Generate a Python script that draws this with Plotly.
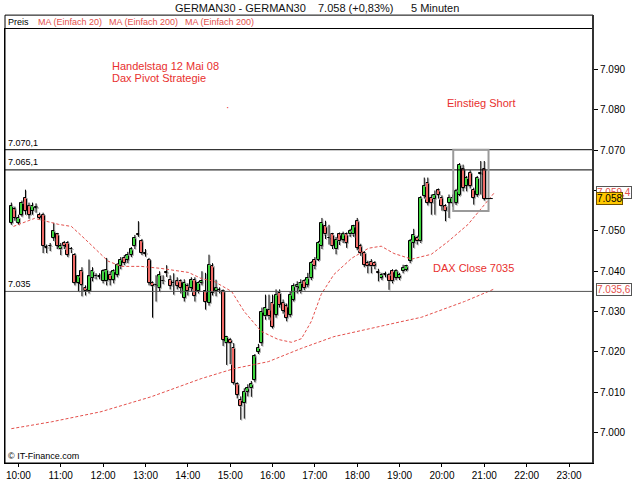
import pandas as pd
import plotly.graph_objects as go

# 5-minute bars GERMAN30, 12 May 2008
bar_start = "2008-05-12 09:50"
opens = [
    7052.0, 7055.3, 7052.0, 7054.0, 7058.2, 7056.1, 7054.9, 7055.7, 7054.0, 7054.0,
    7046.0, 7046.2, 7048.3, 7049.1, 7045.4, 7047.0, 7047.0, 7045.4, 7044.1, 7037.1,
    7040.0, 7035.8, 7035.0, 7038.3, 7038.7, 7038.7, 7037.5, 7037.5, 7039.1, 7037.9,
    7039.1, 7041.2, 7043.3, 7042.9, 7044.1, 7046.2, 7049.1, 7047.4, 7044.5, 7042.9,
    7037.1, 7036.7, 7035.8, 7037.5, 7039.9, 7037.9, 7037.0, 7037.5, 7037.5, 7033.4,
    7036.3, 7035.8, 7037.9, 7035.0, 7037.1, 7035.0, 7032.1, 7041.2, 7035.0, 7035.4,
    7035.0, 7022.2, 7023.0, 7021.0, 7012.0, 7008.1, 7007.3, 7010.2, 7011.0, 7013.1,
    7020.1, 7022.2, 7028.8, 7030.5, 7032.1, 7029.2, 7034.6, 7032.1, 7031.3, 7029.2,
    7032.9, 7036.0, 7035.0, 7037.5, 7036.7, 7038.3, 7042.9, 7042.9, 7046.2, 7051.1,
    7048.3, 7049.1, 7045.4, 7049.1, 7047.8, 7049.1, 7049.1, 7049.1, 7052.4, 7046.2,
    7044.5, 7042.0, 7042.4, 7042.0, 7039.9, 7038.3, 7039.1, 7039.1, 7040.0, 7038.3,
    7038.3, 7040.0, 7040.4, 7042.5, 7047.0, 7048.2, 7047.4, 7058.6, 7061.9, 7058.2,
    7057.8, 7060.0, 7058.2, 7056.1, 7056.9, 7057.0, 7056.9, 7059.0, 7065.2, 7061.1,
    7064.4, 7060.2, 7059.0, 7064.2, 7065.2,
]
highs = [
    7057.0, 7056.0, 7054.0, 7057.5, 7060.2, 7057.0, 7057.0, 7056.8, 7054.5, 7054.5,
    7046.6, 7047.0, 7052.0, 7049.5, 7047.0, 7047.5, 7047.5, 7046.0, 7044.5, 7039.0,
    7041.0, 7036.5, 7042.9, 7041.0, 7039.5, 7039.5, 7040.5, 7043.3, 7040.0, 7040.5,
    7042.0, 7043.5, 7044.0, 7044.8, 7046.0, 7049.0, 7052.4, 7048.0, 7045.5, 7043.3,
    7037.5, 7039.0, 7040.0, 7039.0, 7041.5, 7039.0, 7039.5, 7038.5, 7038.0, 7038.0,
    7037.0, 7038.5, 7038.5, 7037.5, 7040.0, 7039.6, 7044.1, 7042.0, 7037.9, 7036.0,
    7035.5, 7024.0, 7023.5, 7022.2, 7012.5, 7009.0, 7011.0, 7012.0, 7012.8, 7019.5,
    7022.0, 7031.0, 7034.2, 7034.2, 7034.2, 7035.5, 7035.5, 7033.0, 7032.0, 7035.0,
    7037.0, 7037.5, 7038.0, 7038.0, 7039.6, 7042.5, 7043.5, 7047.5, 7053.2, 7052.5,
    7051.5, 7049.5, 7048.5, 7049.6, 7049.8, 7049.6, 7050.5, 7051.5, 7053.2, 7046.8,
    7045.0, 7042.6, 7043.0, 7042.5, 7040.6, 7039.6, 7039.9, 7039.6, 7040.5, 7040.5,
    7039.6, 7041.6, 7041.6, 7048.0, 7050.5, 7048.8, 7058.6, 7063.2, 7063.2, 7059.0,
    7060.0, 7060.5, 7058.8, 7056.6, 7059.0, 7059.0, 7060.4, 7066.8, 7066.4, 7063.6,
    7065.0, 7060.7, 7063.6, 7067.3, 7067.3,
]
lows = [
    7051.5, 7052.5, 7051.5, 7053.5, 7054.0, 7053.0, 7054.0, 7054.5, 7052.8, 7044.5,
    7044.5, 7045.0, 7047.5, 7045.5, 7044.0, 7045.5, 7043.5, 7044.5, 7036.5, 7035.0,
    7033.8, 7034.0, 7034.5, 7037.5, 7038.0, 7038.0, 7037.0, 7036.5, 7036.5, 7037.0,
    7038.5, 7040.5, 7041.5, 7042.0, 7043.5, 7045.5, 7048.5, 7044.0, 7043.6, 7036.5,
    7028.5, 7032.5, 7035.0, 7036.8, 7038.6, 7035.5, 7034.2, 7035.5, 7034.5, 7032.5,
    7034.0, 7035.0, 7032.5, 7034.5, 7036.5, 7030.5, 7031.5, 7034.0, 7033.8, 7034.5,
    7021.5, 7016.8, 7017.0, 7011.9, 7008.5, 7003.2, 7003.5, 7009.0, 7008.9, 7012.5,
    7019.5, 7021.5, 7028.0, 7028.0, 7025.8, 7028.5, 7031.0, 7029.5, 7027.6, 7028.6,
    7032.5, 7034.5, 7034.5, 7035.3, 7036.0, 7037.8, 7040.5, 7042.5, 7045.5, 7048.0,
    7046.6, 7045.5, 7044.2, 7046.5, 7047.0, 7045.8, 7048.5, 7048.5, 7045.2, 7043.8,
    7041.0, 7039.5, 7039.5, 7040.5, 7037.5, 7037.8, 7038.5, 7035.4, 7037.0, 7037.8,
    7037.8, 7039.5, 7040.0, 7042.0, 7045.8, 7046.6, 7047.0, 7058.0, 7056.3, 7054.0,
    7054.0, 7058.0, 7055.0, 7052.4, 7053.2, 7056.0, 7056.4, 7058.6, 7059.8, 7059.8,
    7060.5, 7056.5, 7058.4, 7059.0, 7057.5,
]
closes = [
    7056.1, 7053.2, 7053.2, 7056.9, 7054.9, 7054.0, 7056.1, 7055.8, 7053.2, 7046.2,
    7045.8, 7046.3, 7049.9, 7046.2, 7046.2, 7046.2, 7044.1, 7045.5, 7037.1, 7038.7,
    7036.7, 7035.0, 7038.7, 7040.0, 7038.8, 7038.6, 7040.0, 7040.4, 7037.9, 7040.0,
    7041.6, 7042.9, 7042.0, 7044.1, 7045.4, 7048.2, 7049.0, 7044.5, 7044.3, 7037.1,
    7036.3, 7036.6, 7039.1, 7037.7, 7039.5, 7036.3, 7037.2, 7036.3, 7035.8, 7037.1,
    7035.0, 7037.9, 7033.8, 7037.1, 7037.5, 7032.5, 7041.6, 7034.6, 7035.8, 7035.3,
    7023.0, 7023.8, 7022.2, 7012.3, 7009.4, 7006.5, 7010.2, 7011.0, 7012.0, 7018.9,
    7021.0, 7030.0, 7030.9, 7028.8, 7026.3, 7034.2, 7031.7, 7030.1, 7028.4, 7034.2,
    7036.3, 7036.5, 7037.1, 7035.8, 7038.3, 7042.0, 7041.2, 7047.0, 7052.0, 7049.1,
    7048.2, 7046.2, 7047.8, 7047.4, 7049.1, 7047.0, 7049.9, 7051.1, 7045.8, 7044.5,
    7041.6, 7041.2, 7041.2, 7041.2, 7039.6, 7039.1, 7039.2, 7037.5, 7037.5, 7040.0,
    7039.1, 7040.8, 7041.2, 7047.4, 7049.0, 7047.4, 7058.2, 7061.1, 7056.9, 7056.9,
    7059.0, 7059.0, 7056.1, 7054.9, 7058.2, 7058.1, 7059.8, 7066.4, 7060.7, 7063.1,
    7061.1, 7058.2, 7063.1, 7064.4, 7058.0,
]

# moving averages
ma20_time = ["09:53", "10:23", "10:57", "11:15", "11:33", "11:53", "12:07", "12:26",
             "12:54", "13:22", "14:01", "14:19", "14:37", "15:02", "15:20", "15:44",
             "16:08", "16:27", "16:41", "16:55", "17:09", "17:27", "17:52", "18:16",
             "18:34", "18:52", "19:17", "19:45", "20:09", "20:37", "20:56", "21:14"]
ma20_val = [7051.1, 7053.1, 7051.6, 7051.1, 7048.2, 7044.9, 7042.5, 7041.2,
            7041.2, 7040.7, 7039.7, 7038.2, 7037.5, 7035.0, 7030.0, 7025.1,
            7023.1, 7022.4, 7023.3, 7027.6, 7034.3, 7039.2, 7043.2, 7045.7,
            7046.2, 7044.4, 7043.0, 7044.2, 7047.4, 7051.6, 7055.6, 7059.4]
ma200_time = ["09:50", "10:47", "11:57", "13:08", "14:19", "15:06", "15:54",
              "16:41", "17:27", "18:16", "19:02", "19:31", "20:32", "21:14"]
ma200_val = [7001.0, 7002.7, 7005.2, 7008.9, 7013.4, 7015.9, 7017.6,
             7020.9, 7023.8, 7025.8, 7027.5, 7028.6, 7032.5, 7035.6]

levels = [7070.1, 7065.1]
dax_close = 7035.0
ytick_vals = [7000, 7010, 7020, 7030, 7040, 7050, 7060, 7070, 7080, 7090]

day = "2008-05-12 "
times = pd.date_range(bar_start, periods=len(closes), freq="5min")

RED = "#e8302e"
MA_RED = "#e4504c"
GREEN = "#3cd43c"
CANDLE_RED = "#f06a66"
SHADOW = "#b4b4b4"
FONT = "Liberation Sans"
BODY_W = 255000          # body width in ms
SH_DX = pd.Timedelta(seconds=85)   # shadow offset, about 1px right
SH_DY = 0.25                        # about 1px down

body_lo = [min(o, c) for o, c in zip(opens, closes)]
body_hi = [max(o, c) for o, c in zip(opens, closes)]
body_h = [max(hi - lo, 0.05) for hi, lo in zip(body_hi, body_lo)]
rising = [c >= o for o, c in zip(opens, closes)]


def wick_xy(tt, dy=0.0):
    # upper and lower wick segments, kept outside the body
    xs, ys = [], []
    for t, h, l, bh, bl in zip(tt, highs, lows, body_hi, body_lo):
        if h > bh:
            xs += [t, t, None]
            ys += [bh - dy, h - dy, None]
        if l < bl:
            xs += [t, t, None]
            ys += [l - dy, bl - dy, None]
    return xs, ys


fig = go.Figure()

# gray drop shadow
sx, sy = wick_xy(times + SH_DX, SH_DY)
fig.add_trace(go.Bar(x=times + SH_DX, y=body_h, base=[b - SH_DY for b in body_lo],
                     width=BODY_W, marker=dict(color=SHADOW, line=dict(color=SHADOW, width=1)),
                     hoverinfo="skip"))
for up, col in [(True, GREEN), (False, CANDLE_RED)]:
    idx = [i for i, r in enumerate(rising) if r == up]
    fig.add_trace(go.Bar(
        x=[times[i] for i in idx], y=[body_h[i] for i in idx],
        base=[body_lo[i] for i in idx], width=BODY_W,
        marker=dict(color=col, line=dict(color="black", width=1)),
        customdata=[[opens[i], highs[i], lows[i], closes[i]] for i in idx],
        hovertemplate="%{x|%H:%M}<br>O %{customdata[0]}<br>H %{customdata[1]}"
                      "<br>L %{customdata[2]}<br>C %{customdata[3]}<extra></extra>"))

fig.add_trace(go.Scatter(x=sx, y=sy, mode="lines", line=dict(color=SHADOW, width=1),
                         hoverinfo="skip"))
wx, wy = wick_xy(times)
fig.add_trace(go.Scatter(x=wx, y=wy, mode="lines", line=dict(color="black", width=1),
                         hoverinfo="skip"))

fig.add_trace(go.Scatter(
    x=[day + t for t in ma200_time], y=ma200_val, mode="lines",
    line=dict(color=MA_RED, width=1, dash="3px,2px"), hoverinfo="skip"))
fig.add_trace(go.Scatter(
    x=[day + t for t in ma20_time], y=ma20_val, mode="lines",
    line=dict(color=MA_RED, width=1, dash="3px,2px"), hoverinfo="skip"))

shapes = []
for lv in levels:
    shapes.append(dict(type="line", xref="paper", x0=0, x1=1, yref="y", y0=lv, y1=lv,
                       line=dict(color="black", width=1)))
shapes.append(dict(type="line", xref="paper", x0=0, x1=1, yref="y", y0=dax_close, y1=dax_close,
                   line=dict(color="#555555", width=1)))
# entry box
shapes.append(dict(type="rect", xref="x", yref="y", x0=day + "20:16", x1=day + "21:06",
                   y0=7054.9, y1=levels[0], line=dict(color="#9a9a9a", width=2)))
# last price tick
shapes.append(dict(type="line", xref="x", yref="y", x0=times[-1], x1=day + "21:12",
                   y0=closes[-1], y1=closes[-1], line=dict(color="black", width=1)))
# outer frame incl. legend row
shapes.append(dict(type="rect", xref="paper", yref="paper", x0=0, x1=1, y0=0, y1=1.032,
                   line=dict(color="black", width=1)))
shapes.append(dict(type="line", xref="paper", yref="paper", x0=1, x1=1, y0=0, y1=1.032,
                   line=dict(color="#333333", width=2)))

ann = []


def txt(x, y, s, color="black", size=11, xanchor="left"):
    ann.append(dict(xref="paper", yref="paper", x=x, y=y, text=s, showarrow=False,
                    xanchor=xanchor, yanchor="middle",
                    font=dict(family=FONT, size=size, color=color)))


# title
txt(0.4, 1.048, "GERMAN30 - GERMAN30", "#111111", 11, "center")
txt(0.597, 1.048, "7.058 (+0,83%)", "#111111", 11, "center")
txt(0.731, 1.048, "5 Minuten", "#111111", 11, "center")
# legend row
txt(0.002, 1.016, "Preis", "black", 9)
txt(0.052, 1.016, "MA (Einfach 20)", MA_RED, 9)
txt(0.174, 1.016, "MA (Einfach 200)", MA_RED, 9)
txt(0.302, 1.016, "MA (Einfach 200)", MA_RED, 9)
# notes
txt(0.178, 0.915, "Handelstag 12 Mai 08", RED, 11)
txt(0.178, 0.887, "Dax Pivot Strategie", RED, 11)
txt(0.372, 0.818, "·", RED, 10)
txt(0.748, 0.829, "Einstieg Short", RED, 11)
txt(0.7245, 0.449, "DAX Close 7035", RED, 11)
txt(0.002, 0.737, "7.070,1", "black", 9)
txt(0.002, 0.6935, "7.065,1", "black", 9)
txt(0.002, 0.4124, "7.035", "black", 9)
txt(0.002, 0.016, "© IT-Finance.com", "black", 9)

# value boxes on the price scale (the MA20 box sits behind the price box)
for val, label, fg, bg, border in [
    (ma20_val[-1], "7.059,4", MA_RED, "white", "#555555"),
    (ma200_val[-1], "7.035,6", MA_RED, "white", "#555555"),
    (closes[-1], "7.058", "black", "#ffc800", "#705000"),
]:
    ann.append(dict(xref="paper", yref="y", x=1.005, y=val, text=label, showarrow=False,
                    xanchor="left", yanchor="middle", bgcolor=bg, bordercolor=border,
                    borderwidth=1, borderpad=0,
                    font=dict(family=FONT, size=10, color=fg)))

fig.update_layout(
    width=640, height=480,
    margin=dict(l=5, r=47, t=29, b=17),
    paper_bgcolor="white", plot_bgcolor="white",
    showlegend=False, separators=",.", barmode="overlay", bargap=0,
    font=dict(family=FONT, size=10, color="black"),
    shapes=shapes, annotations=ann,
    xaxis=dict(type="date", range=[day + "09:41:00", day + "23:34:00"],
               tickformat="%H:%M", dtick=3600000, tick0=day + "10:00",
               ticks="outside", ticklen=3, tickcolor="black", automargin=False,
               showgrid=False, showline=True, linecolor="black", mirror=True,
               fixedrange=True, tickfont=dict(family=FONT, size=10)),
    yaxis=dict(side="right", range=[6992.5, 7100], tickvals=ytick_vals,
               tickformat=",.0f", ticks="outside", ticklen=4, tickcolor="black",
               automargin=False, showgrid=False, zeroline=False, showline=True,
               linecolor="black", mirror=True, tickfont=dict(family=FONT, size=10)),
)

fig.write_html("out.html", config={"displayModeBar": False},
               post_script="document.body.style.margin='0';")
